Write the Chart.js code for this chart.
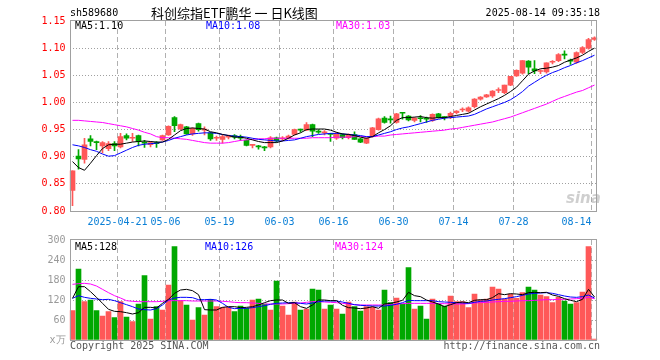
<!DOCTYPE html>
<html><head><meta charset="utf-8">
<script src="https://cdn.jsdelivr.net/npm/chart.js@4.4.1/dist/chart.umd.min.js"></script>
<style>
html,body{margin:0;padding:0;background:#fff;}
#wrap{position:relative;width:660px;height:360px;overflow:hidden;font-family:'DejaVu Sans Mono',monospace;font-size:10px;}
canvas{position:absolute;left:0;top:0;}
.t{position:absolute;white-space:pre;line-height:10px;}
</style></head><body>
<div id="wrap">
<canvas id="c1" width="660" height="360"></canvas>
<canvas id="c2" width="660" height="360"></canvas>
<div class="t" style="left:70px;top:8px;color:#000">sh589680</div>
<div class="t" style="left:151px;top:6px;color:#000;font-family:'Noto Sans CJK SC';font-size:13px;line-height:14px">科创综指ETF鹏华 一 日K线图</div>
<div class="t" style="right:60px;top:8px;color:#000">2025-08-14 09:35:18</div>
<div class="t" style="left:75px;top:21px;color:#000">MA5:1.10</div>
<div class="t" style="left:206px;top:21px;color:#0000ff">MA10:1.08</div>
<div class="t" style="left:336px;top:21px;color:#ff00ff">MA30:1.03</div>
<div class="t" style="left:75px;top:242px;color:#000">MA5:128</div>
<div class="t" style="left:205px;top:242px;color:#0000ff">MA10:126</div>
<div class="t" style="left:335px;top:242px;color:#ff00ff">MA30:124</div>
<div class="t" style="left:70px;top:341px;color:#555">Copyright 2025 SINA.COM</div>
<div class="t" style="right:60px;top:341px;color:#555">http://finance.sina.com.cn</div>
<div class="t" style="left:566px;top:191px;color:rgba(160,160,160,0.5);font-family:'DejaVu Sans';font-style:italic;font-weight:bold;font-size:15px;line-height:15px">sina</div>
</div>
<script>
// ---- data ----
const dates = ['2025-04-09','2025-04-10','2025-04-11','2025-04-14','2025-04-15','2025-04-16','2025-04-17','2025-04-18',
'2025-04-21','2025-04-22','2025-04-23','2025-04-24','2025-04-25','2025-04-28','2025-04-29','2025-04-30',
'2025-05-06','2025-05-07','2025-05-08','2025-05-09','2025-05-12','2025-05-13','2025-05-14','2025-05-15','2025-05-16',
'2025-05-19','2025-05-20','2025-05-21','2025-05-22','2025-05-23','2025-05-26','2025-05-27','2025-05-28','2025-05-29','2025-05-30',
'2025-06-03','2025-06-04','2025-06-05','2025-06-06','2025-06-09','2025-06-10','2025-06-11','2025-06-12','2025-06-13',
'2025-06-16','2025-06-17','2025-06-18','2025-06-19','2025-06-20','2025-06-23','2025-06-24','2025-06-25','2025-06-26','2025-06-27',
'2025-06-30','2025-07-01','2025-07-02','2025-07-03','2025-07-04','2025-07-07','2025-07-08','2025-07-09','2025-07-10','2025-07-11',
'2025-07-14','2025-07-15','2025-07-16','2025-07-17','2025-07-18','2025-07-21','2025-07-22','2025-07-23','2025-07-24','2025-07-25',
'2025-07-28','2025-07-29','2025-07-30','2025-07-31','2025-08-01','2025-08-04','2025-08-05','2025-08-06','2025-08-07','2025-08-08',
'2025-08-11','2025-08-12','2025-08-13','2025-08-14'];
const tickLabels = ['2025-04-21','05-06','05-19','06-03','06-16','06-30','07-14','07-28','08-14'];
const priceTicks = [0.80,0.85,0.90,0.95,1.00,1.05,1.10,1.15];
const volTicks = [0,60,120,180,240,300];

const opens = [0.838,0.901,0.895,0.933,0.928,0.920,0.915,0.924,0.918,0.939,
0.934,0.939,0.927,0.922,0.926,0.931,0.940,0.972,0.951,0.955,
0.942,0.961,0.949,0.944,0.934,0.932,0.936,0.939,0.937,0.930,
0.921,0.920,0.918,0.918,0.935,0.933,0.934,0.941,0.950,0.949,
0.959,0.947,0.944,0.942,0.934,0.941,0.935,0.941,0.933,0.925,
0.937,0.950,0.971,0.969,0.963,0.981,0.975,0.967,0.971,0.970,
0.967,0.979,0.973,0.975,0.981,0.986,0.984,0.992,1.006,1.010,
1.012,1.022,1.018,1.032,1.049,1.054,1.076,1.062,1.057,1.056,
1.074,1.077,1.089,1.078,1.074,1.092,1.100,1.116];
const highs = [0.874,0.913,0.934,0.939,0.929,0.928,0.928,0.928,0.943,0.942,
0.943,0.940,0.930,0.928,0.928,0.940,0.957,0.974,0.960,0.956,
0.953,0.962,0.955,0.945,0.938,0.940,0.940,0.941,0.940,0.931,
0.923,0.921,0.919,0.937,0.936,0.937,0.940,0.951,0.951,0.963,
0.960,0.950,0.948,0.943,0.945,0.942,0.942,0.946,0.934,0.935,
0.954,0.971,0.974,0.975,0.980,0.981,0.976,0.972,0.976,0.973,
0.979,0.980,0.974,0.982,0.985,0.990,0.992,1.007,1.011,1.015,
1.022,1.027,1.032,1.048,1.060,1.077,1.077,1.077,1.060,1.073,
1.077,1.090,1.095,1.080,1.093,1.103,1.118,1.121];
const lows = [0.810,0.877,0.888,0.920,0.913,0.907,0.911,0.911,0.916,0.931,
0.928,0.920,0.917,0.918,0.917,0.930,0.939,0.946,0.950,0.941,
0.939,0.947,0.940,0.930,0.930,0.925,0.933,0.933,0.930,0.920,
0.916,0.914,0.911,0.916,0.927,0.930,0.933,0.940,0.945,0.948,
0.937,0.943,0.940,0.928,0.932,0.933,0.933,0.932,0.926,0.924,
0.936,0.949,0.962,0.962,0.962,0.969,0.966,0.964,0.964,0.963,
0.965,0.971,0.968,0.970,0.979,0.983,0.982,0.990,1.004,1.009,
1.009,1.018,1.016,1.031,1.048,1.052,1.053,1.053,1.053,1.054,
1.071,1.075,1.080,1.070,1.072,1.090,1.098,1.114];
const closes = [0.874,0.896,0.922,0.928,0.926,0.926,0.924,0.920,0.937,0.934,
0.935,0.928,0.925,0.926,0.924,0.939,0.956,0.957,0.959,0.942,
0.952,0.950,0.951,0.933,0.935,0.937,0.938,0.936,0.934,0.921,
0.922,0.918,0.916,0.935,0.929,0.934,0.938,0.950,0.949,0.959,
0.947,0.945,0.945,0.941,0.943,0.935,0.941,0.932,0.927,0.934,
0.953,0.970,0.963,0.968,0.979,0.980,0.968,0.971,0.970,0.969,
0.978,0.972,0.972,0.980,0.984,0.987,0.990,1.006,1.010,1.014,
1.021,1.023,1.032,1.048,1.059,1.077,1.065,1.058,1.058,1.073,
1.075,1.088,1.087,1.076,1.092,1.101,1.116,1.119];
const ma5 = [0.891,0.880,0.875,0.888,0.902,0.915,0.922,0.923,0.923,0.925,
0.927,0.928,0.929,0.928,0.927,0.927,0.932,0.940,0.948,0.952,
0.953,0.952,0.951,0.946,0.944,0.941,0.939,0.936,0.936,0.934,
0.931,0.928,0.926,0.926,0.926,0.929,0.934,0.940,0.944,0.950,
0.951,0.951,0.951,0.949,0.945,0.942,0.941,0.939,0.936,0.934,
0.937,0.944,0.950,0.957,0.967,0.972,0.972,0.973,0.974,0.972,
0.971,0.972,0.972,0.974,0.976,0.978,0.980,0.986,0.992,0.997,
1.002,1.007,1.013,1.020,1.028,1.040,1.052,1.058,1.062,1.063,
1.065,1.068,1.074,1.078,1.082,1.087,1.094,1.100];
const ma10 = [0.922,0.920,0.917,0.913,0.910,0.905,0.901,0.902,0.907,0.912,
0.917,0.921,0.923,0.924,0.925,0.927,0.930,0.934,0.937,0.940,
0.942,0.943,0.944,0.944,0.943,0.941,0.939,0.938,0.937,0.936,
0.934,0.932,0.931,0.930,0.929,0.929,0.930,0.931,0.934,0.937,
0.939,0.941,0.942,0.943,0.943,0.942,0.941,0.940,0.939,0.937,
0.937,0.940,0.943,0.946,0.950,0.953,0.955,0.958,0.961,0.964,
0.967,0.969,0.971,0.972,0.973,0.974,0.975,0.978,0.983,0.988,
0.992,0.996,1.000,1.005,1.012,1.020,1.030,1.037,1.044,1.050,
1.055,1.059,1.064,1.068,1.073,1.077,1.082,1.087];
const ma30 = [0.967,0.967,0.966,0.965,0.964,0.963,0.961,0.959,0.957,0.955,
0.952,0.949,0.945,0.942,0.937,0.935,0.935,0.934,0.933,0.932,
0.930,0.928,0.926,0.925,0.925,0.925,0.926,0.928,0.930,0.931,
0.932,0.933,0.933,0.934,0.934,0.934,0.934,0.934,0.934,0.934,
0.935,0.935,0.935,0.935,0.936,0.936,0.936,0.937,0.937,0.937,
0.937,0.938,0.938,0.940,0.941,0.942,0.943,0.944,0.945,0.946,
0.947,0.948,0.949,0.951,0.952,0.954,0.956,0.958,0.960,0.962,
0.964,0.967,0.970,0.973,0.977,0.981,0.985,0.989,0.993,0.997,
1.002,1.007,1.011,1.015,1.019,1.022,1.027,1.032];
const volumes = [88,213,115,120,88,72,85,67,115,69,
55,108,193,63,100,90,165,280,118,105,
60,97,75,122,100,98,98,85,102,95,
120,123,108,90,177,102,75,114,90,93,
153,150,93,105,93,78,114,100,87,100,
98,90,150,112,126,108,217,93,102,63,
123,108,102,132,115,115,97,138,120,123,
159,153,123,138,125,142,159,150,135,130,
112,128,117,108,112,144,280,3];
const volMa5 = [125,160,160,145,128,110,92,86,85,82,
78,82,98,98,96,110,122,140,150,152,
148,136,91,90,90,98,100,100,97,98,
100,105,112,118,120,120,110,112,100,95,
105,120,120,118,118,104,97,96,94,96,
100,95,108,110,114,119,143,133,130,120,
114,108,100,106,112,114,112,119,121,121,
127,139,136,139,138,136,142,143,142,143,
135,131,124,119,115,122,152,129];
const volMa10 = [125,133,128,125,123,121,122,118,112,106,
100,93,91,90,94,105,120,126,128,128,
127,121,121,122,120,110,98,94,95,95,
97,100,103,107,110,111,112,112,110,108,
111,115,117,117,117,114,110,106,104,103,
102,102,102,104,107,112,119,118,118,118,
118,115,114,113,112,111,110,113,116,117,
120,122,124,127,130,134,138,140,141,142,
140,136,132,129,128,130,135,126];
const volMa30 = [167,169,170,168,162,152,142,133,126,118,
116,115,115,115,115,116,118,118,118,118,
117,117,117,117,117,116,115,113,112,112,
111,110,108,108,108,108,109,110,111,113,
115,115,114,113,112,110,108,106,105,105,
105,105,105,106,108,109,110,110,110,110,
110,109,109,108,108,108,109,111,112,113,
114,115,116,116,117,118,118,119,120,121,
121,122,122,123,124,125,128,124];

// ---- styling / helpers ----
const RED = '#ff5858', GREEN = '#00a800';
const N = dates.length;
const up = closes.map((c, i) => c >= opens[i]);
const candleColors = up.map(u => u ? RED : GREEN);
const tickFull = tickLabels.map(l => l.length === 10 ? l : '2025-' + l);
const tickIdx = [0].concat(tickFull.map(d => dates.indexOf(d)));
const labelAt = {};
tickFull.forEach((d, k) => { labelAt[dates.indexOf(d)] = tickLabels[k]; });
const pts = arr => arr.map((v, i) => ({x: i + 0.5, y: v}));
const rng = (a, b) => a.map((v, i) => ({x: i + 0.5, y: [v, b[i]]}));

Chart.defaults.font.family = "'DejaVu Sans Mono', monospace";
Chart.defaults.font.size = 10;

const frame = {
  id: 'frame',
  afterDraw(chart) {
    const {ctx, chartArea: a} = chart;
    ctx.save();
    ctx.strokeStyle = '#a0a0a0';
    ctx.lineWidth = 1;
    const l = Math.ceil(a.left) + 0.5, r = Math.floor(a.right) - 0.5;
    const t = Math.floor(a.top) - 0.5, b = Math.floor(a.bottom) + 0.5;
    ctx.strokeRect(l, t, r - l, b - t);
    ctx.restore();
  }
};

function xScale(showLabels) {
  return {
    type: 'linear', min: 0, max: N, offset: false,
    afterBuildTicks: s => { s.ticks = tickIdx.map(v => ({value: v})); },
    afterFit: s => { s.height = showLabels ? 24 : 0; },
    grid: {
      offset: false, drawTicks: false,
      color: c => (c.tick && c.tick.value === 0) ? 'rgba(0,0,0,0)' : '#b0b0b0',
      lineWidth: 1
    },
    border: {display: false, dash: [5, 3]},
    ticks: {
      display: showLabels, autoSkip: false, maxRotation: 0, minRotation: 0,
      align: 'inner', padding: 5, color: '#0a7fd6',
      callback: v => labelAt[v] !== undefined ? labelAt[v] : ''
    }
  };
}
function yScale(min, max, ticksArr, color, fmt) {
  return {
    type: 'linear', min: min, max: max,
    afterBuildTicks: s => { s.ticks = ticksArr.map(v => ({value: v})); },
    afterFit: s => { s.width = 69.5; },
    grid: {
      drawTicks: false,
      color: c => (c.tick && (c.tick.value === min || c.tick.value === max)) ? 'rgba(0,0,0,0)' : '#a0a0a0'
    },
    border: {display: false, dash: [1, 2]},
    ticks: {color: color, padding: 4, callback: fmt}
  };
}
const lineDs = (data, color) => ({
  type: 'line', data: data, borderColor: color, borderWidth: 1, pointRadius: 0,
  tension: 0, fill: false, order: 0
});

new Chart(document.getElementById('c1'), {
  type: 'bar',
  data: {
    datasets: [
      lineDs(pts(ma5), '#000000'),
      lineDs(pts(ma10), '#0000ff'),
      lineDs(pts(ma30), '#ff00ff'),
      {type: 'bar', data: rng(opens, closes), backgroundColor: candleColors,
       barThickness: 5, minBarLength: 1, grouped: false, order: 1, borderWidth: 0},
      {type: 'bar', data: rng(lows, highs), backgroundColor: candleColors,
       barThickness: 1, grouped: false, order: 2, borderWidth: 0}
    ]
  },
  options: {
    responsive: false, animation: false, devicePixelRatio: 1,
    layout: {padding: {top: 21, right: 62.5, bottom: 125, left: 0}},
    plugins: {legend: {display: false}, tooltip: {enabled: false}},
    scales: {
      x: xScale(true),
      y: yScale(0.80, 1.15, priceTicks, '#ff0000', v => Number(v).toFixed(2))
    }
  },
  plugins: [frame]
});

new Chart(document.getElementById('c2'), {
  type: 'bar',
  data: {
    datasets: [
      lineDs(pts(volMa5), '#000000'),
      lineDs(pts(volMa10), '#0000ff'),
      lineDs(pts(volMa30), '#ff00ff'),
      {type: 'bar', data: pts(volumes), backgroundColor: candleColors,
       barThickness: 5, grouped: false, order: 1, borderWidth: 0}
    ]
  },
  options: {
    responsive: false, animation: false, devicePixelRatio: 1,
    layout: {padding: {top: 240, right: 62.5, bottom: 20, left: 0}},
    plugins: {legend: {display: false}, tooltip: {enabled: false}},
    scales: {
      x: xScale(false),
      y: yScale(0, 300, volTicks, '#999999', v => v === 0 ? 'x万' : String(v))
    }
  },
  plugins: [frame]
});
</script>
</body></html>
